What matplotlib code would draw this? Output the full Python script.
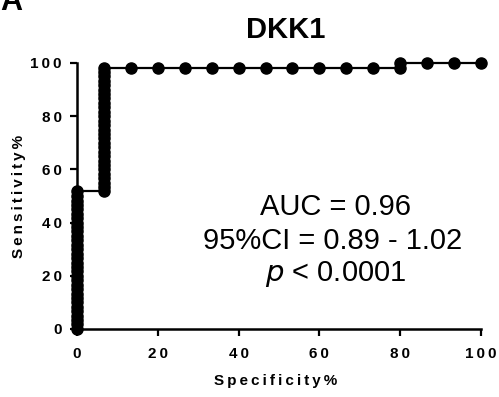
import matplotlib
matplotlib.use('Agg')
import matplotlib.pyplot as plt

# ROC points, x = 100% - specificity, y = sensitivity (percent)
sens_at_0 = [0.0, 1.7, 3.3, 5.0, 6.7, 8.3, 10.0, 11.7, 13.3, 15.0, 16.7, 18.3,
             20.0, 21.7, 23.3, 25.0, 26.7, 28.3, 30.0, 31.7, 33.3, 35.0, 36.7,
             38.3, 40.0, 41.7, 43.3, 45.0, 46.7, 48.3, 50.0, 51.7]
sens_at_67 = [51.7, 53.3, 55.0, 56.7, 58.3, 60.0, 61.7, 63.3, 65.0, 66.7, 68.3,
              70.0, 71.7, 73.3, 75.0, 76.7, 78.3, 80.0, 81.7, 83.3, 85.0, 86.7,
              88.3, 90.0, 91.7, 93.3, 95.0, 96.7, 98.3]
top_x = [13.3, 20.0, 26.7, 33.3, 40.0, 46.7, 53.3, 60.0, 66.7, 73.3, 80.0,
         80.0, 86.7, 93.3, 100.0]
top_y = [98.3, 98.3, 98.3, 98.3, 98.3, 98.3, 98.3, 98.3, 98.3, 98.3, 98.3,
         100.0, 100.0, 100.0, 100.0]

xticks = [0, 20, 40, 60, 80, 100]
yticks = [0, 20, 40, 60, 80, 100]

x = [0.0] * len(sens_at_0) + [6.7] * len(sens_at_67) + top_x
y = sens_at_0 + sens_at_67 + top_y

def spaced(s):
    # graphpad-style letter spacing (thin spaces)
    return '\u2009'.join(s)

plt.rcParams['font.family'] = ['Liberation Sans', 'DejaVu Sans']

W, H = 499, 397
fig = plt.figure(figsize=(W / 100, H / 100), dpi=100)
ax = fig.add_axes([77 / W, 1 - 329 / H, (481 - 77) / W, (329 - 63) / H])

ax.plot(x, y, color='black', lw=1.6, marker='o', ms=8, clip_on=False, zorder=3)

ax.set_xlim(0, 100)
ax.set_ylim(0, 100)
ax.set_xticks(xticks)
ax.set_yticks(yticks)
ax.set_xticklabels([spaced(str(t)) for t in xticks], fontweight='bold', fontsize=11)
ax.set_yticklabels([spaced(str(t)) for t in yticks], fontweight='bold', fontsize=11)
ax.tick_params(direction='out', length=5, width=1.6)
ax.tick_params(axis='x', pad=8)
ax.tick_params(axis='y', pad=6)
for s in ['top', 'right']:
    ax.spines[s].set_visible(False)
for s in ['left', 'bottom']:
    ax.spines[s].set_linewidth(1.8)

ax.set_xlabel(spaced('Specificity%'), fontweight='bold', fontsize=11)
ax.xaxis.set_label_coords((276 - 77) / 404, -(374 - 329) / 266)
ax.set_ylabel(spaced('Sensitivity%'), fontweight='bold', fontsize=11)
ax.yaxis.set_label_coords((18.5 - 77) / 404, 0.5)
ax.yaxis.label.set_va('center')

fig.text(286 / W, 1 - 38 / H, 'DKK1', fontsize=21, fontweight='bold',
         ha='center', va='baseline')
fig.text(0, 1 - 10 / H, 'A', fontsize=22, fontweight='bold', ha='left', va='baseline')

fig.text(335 / W, 1 - 215 / H, 'AUC = 0.96', fontsize=21, ha='center', va='baseline')
fig.text(332.5 / W, 1 - 249 / H, '95%CI = 0.89 - 1.02', fontsize=21, ha='center', va='baseline')
fig.text(336 / W, 1 - 281 / H, r'$\it{p}$ < 0.0001', fontsize=21, ha='center', va='baseline')

fig.savefig('out.png', dpi=100)
